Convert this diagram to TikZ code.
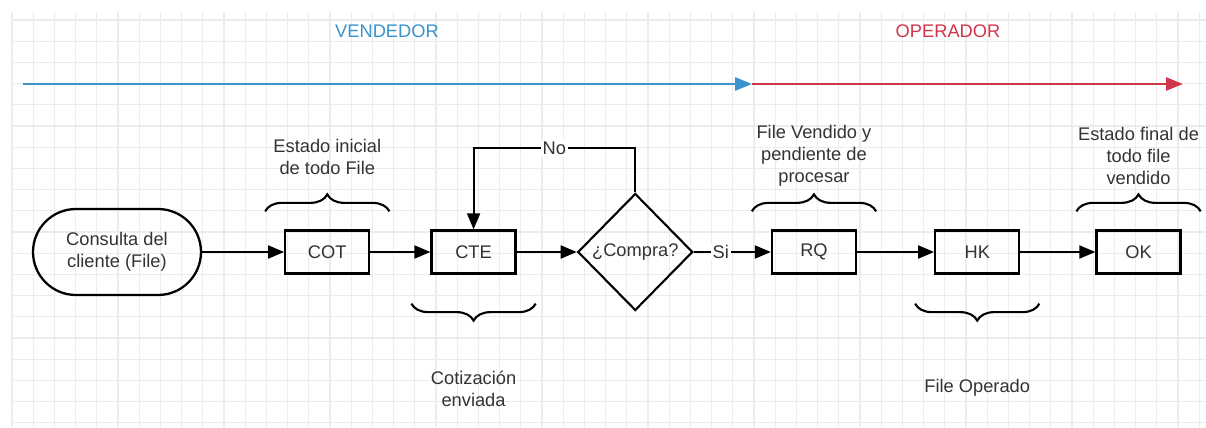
\documentclass[tikz,border=0pt]{standalone}
\usepackage{fontspec}
\setmainfont{Liberation Sans}
\usepackage{xcolor}
\usepackage{tikz}
\usetikzlibrary{arrows.meta, positioning, shapes.geometric, decorations.pathreplacing}

\definecolor{vendblue}{HTML}{3A93CC}
\definecolor{operred}{HTML}{D2344A}
\definecolor{txtgray}{HTML}{333333}

\begin{document}
\begin{tikzpicture}[
    font=\fontsize{10.4}{12.5}\selectfont,
    node distance=1.54cm,
    every node/.style={text=txtgray, align=center},
    box/.style={draw=black, line width=1.3pt, rectangle, minimum width=1.68cm, minimum height=0.86cm, inner sep=1pt},
    term/.style={draw=black, line width=1.3pt, rectangle, rounded corners=0.86cm, minimum width=3.36cm, minimum height=1.72cm},
    decision/.style={draw=black, line width=1.2pt, diamond, minimum width=2.3cm, minimum height=2.34cm, inner sep=1pt},
    arrow/.style={-{Triangle[length=0.32cm, width=0.26cm]}, line width=1.1pt},
    timeline/.style={-{Triangle[length=0.34cm, width=0.26cm]}, line width=1.6pt},
    brace/.style={decorate, decoration={brace, amplitude=0.34cm}, line width=1.2pt},
    note/.style={inner sep=1pt},
    gridline/.style={gray!15, line width=0.6pt}
]

% Canvas and grid
\useasboundingbox (0,0) rectangle (24.12,8.54);
\fill[white] (0,0) rectangle (24.12,8.54);
\foreach \i in {0,...,56}
    \draw[gridline] ({0.24+\i*0.424},0) -- ({0.24+\i*0.424},8.3);
\foreach \j in {0,...,19}
    \draw[gridline] (0.24,{8.14-\j*0.424}) -- (24.12,{8.14-\j*0.424});

% Roles
\node (vend) at (7.74,7.92) [text=vendblue] {VENDEDOR};
\node (oper) at (18.96,7.92) [text=operred] {OPERADOR};
\coordinate (tlstart) at (0.46,6.86);
\coordinate (tlmid) at (15.04,6.86);
\coordinate (tlend) at (23.66,6.86);
\draw[timeline, vendblue] (tlstart) -- (tlmid);
\draw[timeline, operred] (tlmid) -- (tlend);

% Nodes
\node (cons) [term] at (2.34,3.5) {Consulta del\\cliente (File)};
\node (cot) [box, right=1.64cm of cons] {COT};
\node (cte) [box, right=1.2cm of cot] {CTE};
\node (dia) [decision, right=1.2cm of cte] {¿Compra?};
\node (rq) [box, right=of dia] {RQ};
\node (hk) [box, right=of rq] {HK};
\node (ok) [box, right=1.5cm of hk] {OK};

% Arrows
\draw[arrow] (cons) -- (cot);
\draw[arrow] (cot) -- (cte);
\draw[arrow] (cte) -- (dia);
\draw[arrow] (dia) -- node[pos=0.35, fill=white, inner sep=1pt] {Si} (rq);
\draw[arrow] (rq) -- (hk);
\draw[arrow] (hk) -- (ok);

% Loop back
\draw[arrow] (dia.north) -- ++(0,0.88) -| node[pos=0.25, fill=white, inner sep=1pt] {No} (cte.north);

% Braces
\draw[brace] ([xshift=-0.38cm, yshift=0.36cm]cot.north west) -- ([xshift=0.38cm, yshift=0.36cm]cot.north east);
\draw[brace] ([xshift=-0.38cm, yshift=0.36cm]rq.north west) -- ([xshift=0.38cm, yshift=0.36cm]rq.north east);
\draw[brace] ([xshift=-0.38cm, yshift=0.36cm]ok.north west) -- ([xshift=0.38cm, yshift=0.36cm]ok.north east);
\draw[brace, decoration={mirror}] ([xshift=-0.38cm, yshift=-0.58cm]cte.south west) -- ([xshift=0.38cm, yshift=-0.58cm]cte.south east);
\draw[brace, decoration={mirror}] ([xshift=-0.38cm, yshift=-0.58cm]hk.south west) -- ([xshift=0.38cm, yshift=-0.58cm]hk.south east);

% Notes
\node (notecot) [note] at ([yshift=1.9cm]cot.center) {Estado inicial\\de todo File};
\node (noterq) [note] at ([yshift=1.92cm]rq.center) {File Vendido y\\pendiente de\\procesar};
\node (noteok) [note] at ([yshift=1.92cm]ok.center) {Estado final de\\todo file\\vendido};
\node (notecte) [note] at ([yshift=-2.74cm]cte.center) {Cotización\\enviada};
\node (notehk) [note] at ([yshift=-2.72cm]hk.center) {File Operado};

\end{tikzpicture}
\end{document}
